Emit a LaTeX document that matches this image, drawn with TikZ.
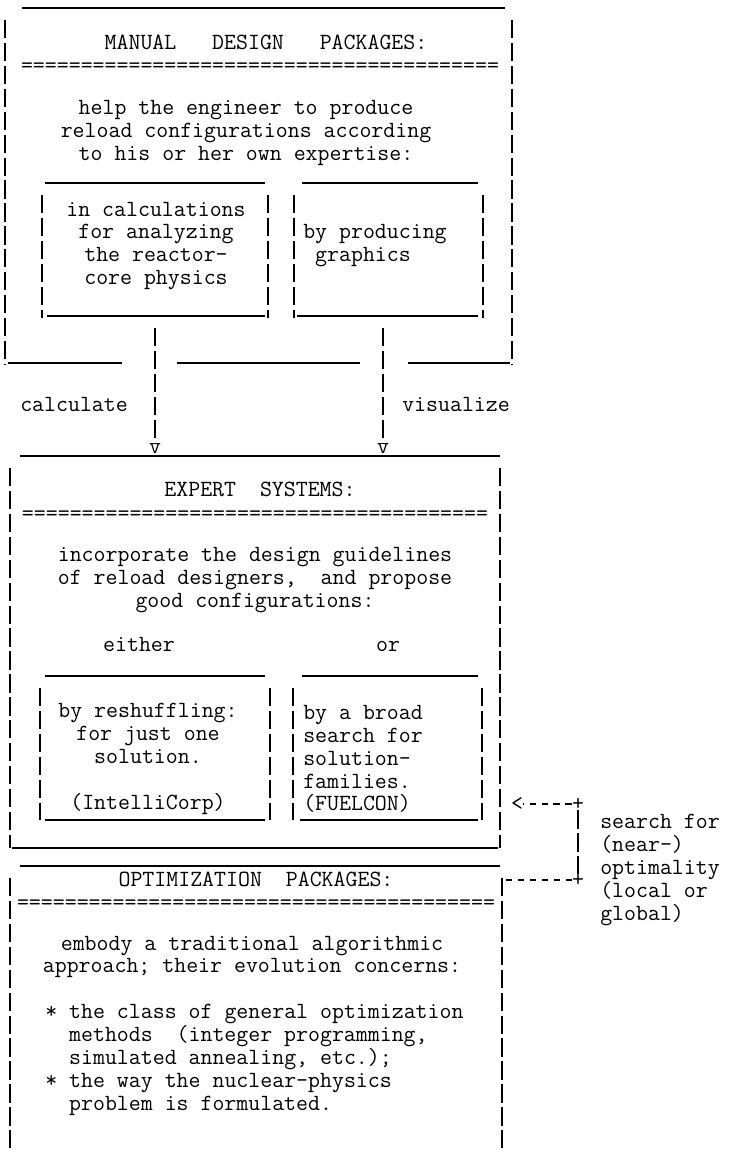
\documentclass[tikz,border=0pt]{standalone}
\usepackage{fontspec}
\usepackage{tikz}
\usetikzlibrary{positioning}

\tikzset{
  ascii/.style={font=\ttfamily\fontsize{16.5}{16.3}\selectfont, inner sep=0pt},
  vbar/.style={line width=0.9pt, dash pattern=on 13pt off 3.3pt},
  hbar/.style={line width=1.2pt},
  dashbar/.style={line width=0.9pt, dash pattern=on 4.5pt off 4pt},
}

\begin{document}
\begin{tikzpicture}[x=0.025cm,y=-0.025cm]
\useasboundingbox (0,0) rectangle (742,1153);

\draw [hbar] (22,8) -- (505,8);
\draw [vbar] (5,20) -- (5,365);
\draw [vbar] (512,20) -- (512,365);
\node [ascii] (mdtitle) at (266,42) {MANUAL\ \ \ DESIGN\ \ \ PACKAGES:};
\node [ascii] (mdeq) at (260,68) {========================================};
\node [ascii, align=center] (mdtext) at (246,133) {help the engineer to produce\\reload configurations according\\to his or her own expertise:};
\draw [hbar] (45,183) -- (265,183);
\draw [vbar] (42,195) -- (42,318);
\draw [vbar] (268,195) -- (268,318);
\draw [hbar] (47,316) -- (265,316);
\node [ascii, align=center] (calctext) at (156,246) {in calculations\\for analyzing\\the reactor-\\core physics};
\draw [hbar] (302,183) -- (478,183);
\draw [vbar] (294,195) -- (294,318);
\draw [vbar] (483,195) -- (483,318);
\draw [hbar] (297,316) -- (478,316);
\node [ascii, align=left, anchor=west] (graphtext) at (303,246) {by producing\\\phantom{x}graphics};
\draw [hbar] (8,363) -- (122,363);
\draw [hbar] (177,363) -- (360,363);
\draw [hbar] (408,363) -- (510,363);

\coordinate (calcstart) at (155,328);
\coordinate (visstart) at (383,328);
\node [ascii] (calcv) at (155,449) {v};
\node [ascii] (visv) at (383,449) {v};
\draw [vbar] (calcstart) -- (calcv.north);
\draw [vbar] (visstart) -- (visv.north);
\node [ascii, anchor=west] (calclabel) at (20,404) {calculate};
\node [ascii, anchor=west] (vislabel) at (402,404) {visualize};

\draw [hbar] (20,456) -- (500,456);
\draw [vbar] (10,468) -- (10,848);
\draw [vbar] (500,468) -- (500,848);
\node [ascii] (estitle) at (260,489) {EXPERT\ \ SYSTEMS:};
\node [ascii] (eseq) at (255,516) {=======================================};
\node [ascii, align=center] (estext) at (255,580) {incorporate the design guidelines\\of reload designers,\ \ and propose\\good configurations:};
\node [ascii, anchor=base] (either) at (139,651) {either};
\node [ascii, anchor=base] (or) at (388,651) {or};
\draw [hbar] (45,676) -- (265,676);
\draw [vbar] (40,688) -- (40,820);
\draw [vbar] (270,688) -- (270,820);
\draw [hbar] (45,820) -- (265,820);
\node [ascii, align=center] (shuffletext) at (148,759) {by reshuffling:\\for just one\\solution.\\\\(IntelliCorp)};
\draw [hbar] (302,676) -- (478,676);
\draw [vbar] (293,688) -- (293,820);
\draw [vbar] (482,688) -- (482,820);
\draw [hbar] (300,820) -- (478,820);
\node [ascii, align=left, anchor=west] (searchtext) at (303,759) {by a broad\\search for\\solution-\\families.\\(FUELCON)};
\draw [hbar] (12,848) -- (498,848);

\draw [hbar] (20,866) -- (500,866);
\draw [vbar] (10,878) -- (10,1153);
\draw [vbar] (502,878) -- (502,1153);
\node [ascii] (optitle) at (256,879) {OPTIMIZATION\ \ PACKAGES:};
\node [ascii] (opeq) at (256,905) {========================================};
\node [ascii, align=center] (optext) at (252,957) {embody a traditional algorithmic\\approach; their evolution concerns:};
\node [ascii, align=left, anchor=west] (oplist) at (45,1060) {* the class of general optimization\\\phantom{* }methods\ \ (integer programming,\\\phantom{* }simulated annealing, etc.);\\* the way the nuclear-physics\\\phantom{* }problem is formulated.};

\node [ascii] (fbtip) at (517,804) {<};
\node [ascii] (fbtop) at (578,804) {+};
\node [ascii] (fbbot) at (578,880) {+};
\coordinate (fbstart) at (506,880);
\draw [dashbar] (fbtop) -- (fbtip);
\draw [vbar] (fbtop) -- (fbbot);
\draw [dashbar] (fbstart) -- (fbbot);
\node [ascii, align=left, anchor=west] (searchlabel) at (600,870) {search for\\(near-)\\optimality\\(local or\\global)};
\end{tikzpicture}
\end{document}
